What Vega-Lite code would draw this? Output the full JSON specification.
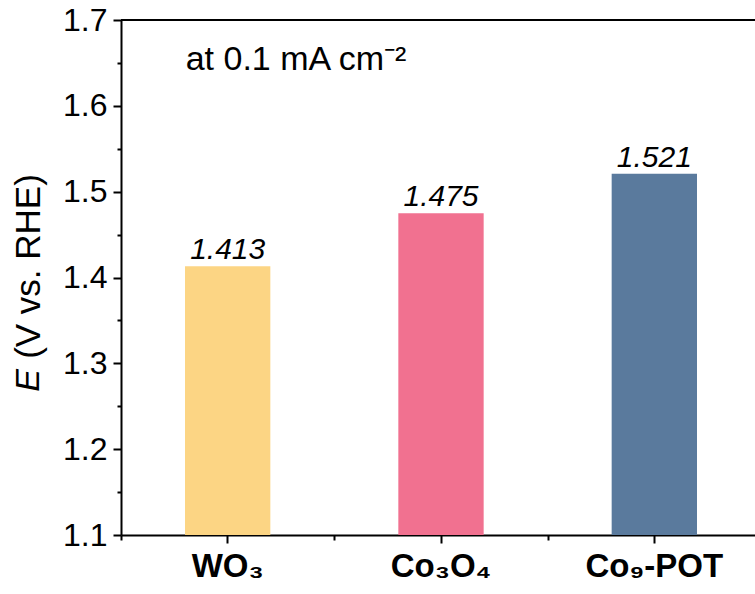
{
  "$schema": "https://vega.github.io/schema/vega-lite/v6.json",
  "width": 634,
  "height": 515,
  "autosize": {"type": "none"},
  "padding": {"left": 121, "top": 20, "right": 0, "bottom": 59},
  "config": {
    "view": {"stroke": null},
    "font": "Liberation Sans",
    "axis": {"domainColor": "black", "domainWidth": 2, "tickColor": "black", "tickWidth": 2, "labelColor": "black", "titleColor": "black", "grid": false}
  },
  "data": {
    "values": [
      {"sample": "WO₃", "E": 1.413},
      {"sample": "Co₃O₄", "E": 1.475},
      {"sample": "Co₉-POT", "E": 1.521}
    ]
  },
  "layer": [
    {
      "mark": {"type": "bar", "width": {"band": 0.4}, "clip": true},
      "encoding": {
        "x": {
          "field": "sample", "type": "nominal", "sort": null,
          "scale": {"range": [0, 640], "paddingInner": 0, "paddingOuter": 0},
          "axis": {"orient": "bottom", "title": null, "labelAngle": 0, "tickSize": 8, "labelFontSize": 33, "labelFontWeight": "bold", "labelPadding": 7, "labelBaseline": "top"}
        },
        "y": {
          "field": "E", "type": "quantitative",
          "scale": {"domain": [1.1, 1.7], "zero": false, "nice": false},
          "axis": {"orient": "left", "values": [1.1, 1.2, 1.3, 1.4, 1.5, 1.6, 1.7], "format": ".1f", "tickSize": 8, "labelFontSize": 32, "labelPadding": 6,
                   "title": "(V vs. RHE)", "titleFontSize": 35, "titleFontWeight": "normal", "titleX": -93, "titleY": 246, "titleAlign": "center", "titleBaseline": "middle", "titleAngle": -90}
        },
        "color": {
          "field": "sample", "type": "nominal", "sort": null,
          "scale": {"range": ["#FCD584", "#F17190", "#5A7A9D"]},
          "legend": null
        }
      }
    },
    {
      "mark": {"type": "text", "fontStyle": "italic", "fontSize": 30, "baseline": "alphabetic", "dy": -7, "color": "black"},
      "encoding": {
        "x": {"field": "sample", "type": "nominal", "sort": null, "axis": null},
        "y": {"field": "E", "type": "quantitative", "axis": null},
        "text": {"field": "E", "type": "quantitative", "format": ".3f"}
      }
    },
    {
      "mark": {"type": "point", "opacity": 0},
      "encoding": {
        "x": {
          "field": "sample", "type": "nominal", "sort": null,
          "axis": {"orient": "bottom", "tickBand": "extent", "labels": false, "domain": false, "tickSize": 5, "title": null}
        },
        "y": {
          "field": "E", "type": "quantitative",
          "axis": {"orient": "left", "values": [1.15, 1.25, 1.35, 1.45, 1.55, 1.65], "labels": false, "domain": false, "tickSize": 4,
                   "title": "E", "titleFontSize": 34, "titleFontStyle": "italic", "titleFontWeight": "normal", "titleX": -93, "titleY": 360, "titleAlign": "center", "titleBaseline": "middle", "titleAngle": -90}
        }
      }
    },
    {
      "data": {"values": [{}]},
      "mark": {"type": "rule", "strokeWidth": 2, "color": "black"},
      "encoding": {"y": {"datum": 1.7, "type": "quantitative", "axis": null}}
    },
    {
      "data": {"values": [{}]},
      "mark": {"type": "text", "text": "at 0.1 mA cm⁻²", "align": "left", "baseline": "middle", "fontSize": 34, "dx": -42, "dy": -3, "color": "black"},
      "encoding": {
        "x": {"datum": "WO₃", "type": "nominal", "axis": null},
        "y": {"datum": 1.65, "type": "quantitative", "axis": null}
      }
    }
  ],
  "resolve": {"axis": {"x": "independent", "y": "independent"}}
}
